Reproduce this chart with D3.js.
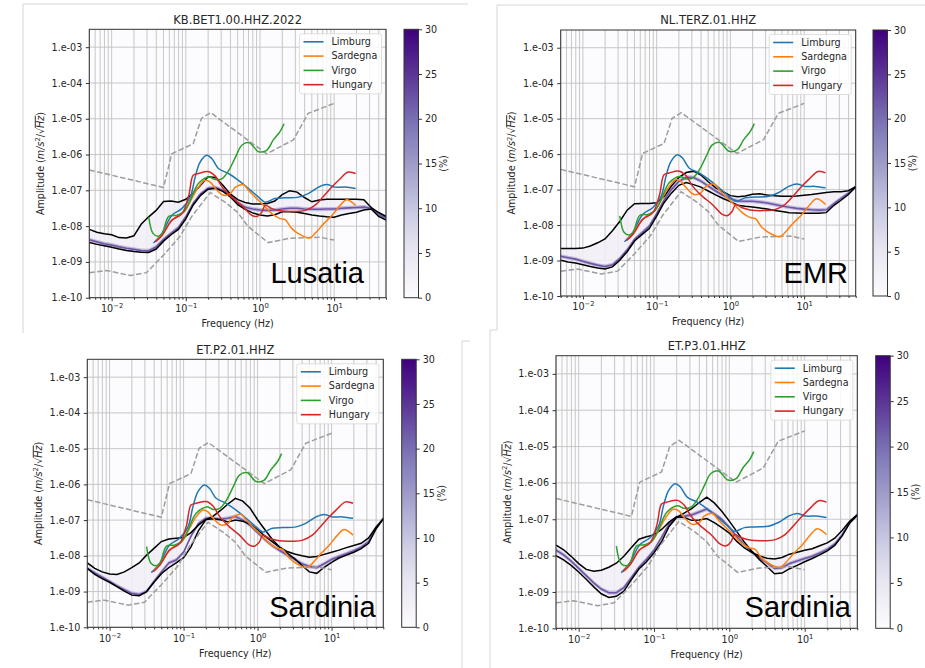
<!DOCTYPE html>
<html>
<head>
<meta charset="utf-8">
<script src="https://cdn.jsdelivr.net/npm/d3@7"></script>
<style>
  body { margin: 0; background: #fff; }
  svg { display: block; font-family: "DejaVu Sans", sans-serif; }
</style>
</head>
<body>
<svg id="chart" width="925" height="668"></svg>
<script>
// ---- data (log10 frequency in Hz, log10 amplitude in m/s^2/sqrt(Hz)) ----
var gridLogF = [-2.3,-2.2,-2.1,-2.0,-1.9,-1.8,-1.7,-1.6,-1.5,-1.4,-1.3,-1.2,-1.1,-1.0,-0.9,-0.8,-0.7,-0.6,-0.5,-0.4,
  -0.3,-0.2,-0.1,0.0,0.1,0.2,0.3,0.4,0.5,0.6,0.7,0.8,0.9,1.0,1.1,1.2,1.3,1.4,1.5,1.6,1.7];

// KB.BET1 (Lusatia)
var bet1Upper = [-8.09,-8.17,-8.21,-8.24,-8.32,-8.33,-8.27,-7.94,-7.74,-7.56,-7.31,-7.30,-7.33,-7.25,-7.08,-6.86,-6.62,-6.64,-6.86,-7.10,
  -7.26,-7.34,-7.38,-7.38,-7.37,-7.30,-7.12,-7.01,-7.05,-7.20,-7.32,-7.27,-7.25,-7.25,-7.25,-7.25,-7.25,-7.26,-7.48,-7.62,-7.73];
var bet1Lower = [-8.46,-8.51,-8.55,-8.59,-8.64,-8.68,-8.71,-8.73,-8.74,-8.64,-8.42,-8.24,-8.09,-7.80,-7.41,-7.14,-6.97,-6.94,-7.03,-7.18,
  -7.40,-7.53,-7.63,-7.69,-7.72,-7.68,-7.60,-7.60,-7.61,-7.65,-7.69,-7.72,-7.74,-7.75,-7.69,-7.65,-7.61,-7.55,-7.52,-7.73,-7.83];
var bet1Mode = [-8.38,-8.44,-8.49,-8.53,-8.58,-8.62,-8.65,-8.68,-8.69,-8.58,-8.37,-8.20,-8.04,-7.74,-7.36,-7.10,-6.94,-6.92,-7.00,-7.15,
  -7.35,-7.47,-7.52,-7.55,-7.56,-7.55,-7.52,-7.50,-7.50,-7.52,-7.53,-7.53,-7.52,-7.52,-7.50,-7.49,-7.48,-7.47,-7.50,-7.68,-7.78];

// NL.TERZ (EMR)
var terzUpper = [-8.66,-8.66,-8.66,-8.65,-8.59,-8.50,-8.39,-8.16,-7.90,-7.58,-7.40,-7.39,-7.39,-7.37,-7.20,-6.90,-6.66,-6.52,-6.48,-6.59,
  -6.78,-6.95,-7.06,-7.17,-7.20,-7.18,-7.13,-7.12,-7.15,-7.17,-7.19,-7.19,-7.18,-7.16,-7.14,-7.11,-7.08,-7.06,-7.06,-7.03,-6.92];
var terzLower = [-8.99,-9.04,-9.07,-9.12,-9.17,-9.21,-9.24,-9.18,-8.99,-8.75,-8.45,-8.27,-8.10,-7.75,-7.37,-7.10,-6.88,-6.80,-6.86,-6.93,
  -7.04,-7.15,-7.25,-7.34,-7.44,-7.47,-7.49,-7.52,-7.55,-7.59,-7.62,-7.65,-7.66,-7.67,-7.67,-7.67,-7.65,-7.45,-7.30,-7.14,-6.92];
var terzMode = [-8.88,-8.92,-8.96,-9.02,-9.08,-9.13,-9.17,-9.12,-8.94,-8.70,-8.40,-8.22,-8.03,-7.68,-7.30,-7.00,-6.77,-6.65,-6.66,-6.76,
  -6.90,-7.04,-7.16,-7.26,-7.32,-7.33,-7.33,-7.35,-7.38,-7.42,-7.46,-7.50,-7.53,-7.55,-7.57,-7.58,-7.57,-7.40,-7.25,-7.10,-6.92];

// ET.P2 (Sardinia)
var p2Upper = [-8.20,-8.35,-8.45,-8.51,-8.52,-8.45,-8.33,-8.20,-7.98,-7.79,-7.60,-7.53,-7.51,-7.49,-7.35,-7.14,-6.98,-6.96,-6.99,-7.05,
  -7.00,-7.03,-7.12,-7.27,-7.45,-7.61,-7.76,-7.88,-7.95,-8.00,-8.04,-8.02,-7.96,-7.90,-7.84,-7.77,-7.71,-7.65,-7.50,-7.20,-6.97];
var p2Lower = [-8.35,-8.52,-8.64,-8.74,-8.86,-8.99,-9.10,-9.12,-9.00,-8.74,-8.50,-8.33,-8.20,-8.05,-7.75,-7.30,-6.99,-6.89,-6.73,-6.55,
  -6.39,-6.47,-6.67,-6.99,-7.27,-7.54,-7.76,-7.92,-8.08,-8.27,-8.45,-8.49,-8.32,-8.18,-8.06,-7.98,-7.90,-7.80,-7.65,-7.25,-6.96];
var p2Mode = [-8.35,-8.48,-8.60,-8.72,-8.84,-8.95,-9.05,-9.08,-9.00,-8.72,-8.45,-8.20,-8.12,-7.90,-7.45,-7.10,-6.95,-6.95,-6.98,-6.95,
  -6.90,-7.00,-7.15,-7.35,-7.55,-7.72,-7.85,-7.98,-8.10,-8.22,-8.30,-8.33,-8.22,-8.10,-8.02,-7.94,-7.86,-7.76,-7.60,-7.22,-6.95];

// ET.P3 (Sardinia)
var p3Upper = [-7.71,-7.84,-8.02,-8.22,-8.38,-8.43,-8.40,-8.32,-8.21,-8.02,-7.78,-7.55,-7.48,-7.43,-7.28,-7.08,-6.93,-6.95,-7.03,-7.02,
  -6.98,-7.09,-7.23,-7.38,-7.61,-7.79,-7.92,-8.01,-8.07,-8.09,-8.05,-7.96,-7.91,-7.85,-7.81,-7.73,-7.65,-7.52,-7.30,-7.05,-6.88];
var p3Lower = [-8.00,-8.12,-8.27,-8.45,-8.65,-8.86,-9.05,-9.15,-9.12,-8.98,-8.66,-8.37,-8.17,-7.92,-7.62,-7.20,-6.95,-6.83,-6.71,-6.54,
  -6.39,-6.55,-6.78,-7.05,-7.34,-7.63,-7.88,-8.11,-8.30,-8.50,-8.48,-8.36,-8.27,-8.17,-8.08,-7.98,-7.87,-7.72,-7.45,-7.10,-6.88];
var p3Mode = [-7.85,-7.98,-8.15,-8.35,-8.55,-8.75,-8.92,-9.02,-9.02,-8.88,-8.60,-8.32,-8.10,-7.85,-7.50,-7.13,-6.94,-6.92,-6.88,-6.80,
  -6.72,-6.85,-7.00,-7.22,-7.48,-7.70,-7.90,-8.06,-8.20,-8.35,-8.33,-8.22,-8.15,-8.08,-8.02,-7.93,-7.83,-7.68,-7.42,-7.08,-6.88];

// reference noise models (dashed)
var refHighF = [-2.30,-1.30,-1.19,-0.90,-0.79,-0.665,0.09,0.45,0.65,1.0];
var refHighA = [-6.43,-6.92,-5.98,-5.70,-4.99,-4.83,-5.98,-5.59,-4.85,-4.57];
var refLowF = [-2.30,-2.07,-1.75,-1.53,-1.30,-1.08,-0.92,-0.67,-0.45,-0.30,-0.16,0.11,0.40,0.81,1.0];
var refLowA = [-9.30,-9.24,-9.38,-9.30,-8.81,-8.29,-7.73,-7.06,-7.36,-7.62,-8.01,-8.46,-8.34,-8.31,-8.39];

// site spectra
var limburgF = [-1.436,-1.324,-1.189,-1.054,-0.94,-0.874,-0.807,-0.717,-0.65,-0.56,-0.425,-0.29,-0.155,-0.02,0.07,0.20,0.34,0.52,0.65,0.79,0.90,1.01,1.15,1.29];
var limburgA = [-8.47,-8.21,-7.70,-7.51,-7.19,-6.63,-6.21,-6.02,-6.11,-6.39,-6.53,-6.72,-6.95,-7.19,-7.33,-7.23,-7.21,-7.19,-7.09,-6.91,-6.84,-6.91,-6.91,-6.95];
var sardegnaF = [-1.39,-1.28,-1.19,-1.10,-1.01,-0.92,-0.83,-0.74,-0.67,-0.60,-0.49,-0.40,-0.33,-0.22,-0.155,-0.065,0.05,0.16,0.27,0.34,0.43,0.56,0.67,0.74,0.86,0.97,1.08,1.17,1.29];
var sardegnaA = [-8.40,-8.12,-7.84,-7.70,-7.56,-7.23,-6.91,-6.72,-6.77,-6.95,-7.14,-7.09,-6.91,-6.84,-7.00,-7.19,-7.42,-7.65,-7.79,-7.82,-8.07,-8.26,-8.33,-8.21,-7.93,-7.70,-7.42,-7.26,-7.42];
var virgoF = [-1.50,-1.44,-1.37,-1.32,-1.23,-1.12,-1.03,-0.94,-0.83,-0.69,-0.60,-0.51,-0.42,-0.33,-0.245,-0.144,-0.02,0.09,0.18,0.27,0.324];
var virgoA = [-7.74,-8.21,-8.28,-8.21,-7.73,-7.70,-7.61,-7.28,-6.81,-6.63,-6.70,-6.67,-6.44,-6.07,-5.74,-5.67,-5.92,-5.88,-5.59,-5.36,-5.14];
var hungaryF = [-1.41,-1.32,-1.19,-1.05,-0.96,-0.90,-0.83,-0.69,-0.60,-0.51,-0.38,-0.245,-0.11,-0.04,0.025,0.07,0.16,0.29,0.47,0.61,0.74,0.83,0.95,1.06,1.19,1.29];
var hungaryA = [-8.44,-8.26,-7.84,-7.65,-7.14,-6.58,-6.53,-6.48,-6.61,-6.91,-7.19,-7.42,-7.70,-7.73,-7.61,-7.42,-7.51,-7.58,-7.59,-7.56,-7.42,-7.23,-6.95,-6.72,-6.49,-6.53];

var seriesNames = ["Limburg", "Sardegna", "Virgo", "Hungary"];
var seriesColors = ["#1f77b4", "#ff7f0e", "#2ca02c", "#d62728"];
var seriesF = [limburgF, sardegnaF, virgoF, hungaryF];
var seriesA = [limburgA, sardegnaA, virgoA, hungaryA];

var cbarTicks = [0, 5, 10, 15, 20, 25, 30];

// ---- layout of the four sub-figures ----
var panels = [
  { title: "KB.BET1.00.HHZ.2022", site: "Lusatia", x0: 89.3, x1: 386, y0: 29.3, y1: 297.7, cb: 404, siteX: 364, siteY: 283,
    upper: bet1Upper, lower: bet1Lower, mode: bet1Mode },
  { title: "NL.TERZ.01.HHZ", site: "EMR", x0: 560.7, x1: 855.7, y0: 30, y1: 296, cb: 873, siteX: 848, siteY: 283,
    upper: terzUpper, lower: terzLower, mode: terzMode },
  { title: "ET.P2.01.HHZ", site: "Sardinia", x0: 87.3, x1: 383.3, y0: 359.3, y1: 627.3, cb: 401.7, siteX: 375.7, siteY: 616.7,
    upper: p2Upper, lower: p2Lower, mode: p2Mode },
  { title: "ET.P3.01.HHZ", site: "Sardinia", x0: 556, x1: 857.3, y0: 355.7, y1: 628.3, cb: 875.7, siteX: 851, siteY: 616.7,
    upper: p3Upper, lower: p3Lower, mode: p3Mode }
];

var svg = d3.select("#chart");
var defs = svg.append("defs");
var pow10 = function(v) { return Math.pow(10, v); };

// colorbar gradient
var grad = defs.append("linearGradient").attr("id", "cbarGrad")
  .attr("x1", 0).attr("y1", 1).attr("x2", 0).attr("y2", 0);
d3.range(0, 1.0001, 0.05).forEach(function(t) {
  grad.append("stop").attr("offset", t).attr("stop-color", d3.interpolatePurples(t));
});

// faint borders of the pasted screenshots
var frameColor = "#d6d6d6";
[[23, 4, 468, 4], [23, 4, 23, 333], [497, 5, 925, 5], [497, 5, 497, 330],
 [490, 330, 497, 330], [490, 330, 490, 668], [462, 341, 470, 341], [462, 341, 462, 668]]
  .forEach(function(l) {
    svg.append("line").attr("x1", l[0]).attr("y1", l[1]).attr("x2", l[2]).attr("y2", l[3])
      .attr("stroke", frameColor).attr("stroke-width", 1);
  });

panels.forEach(function(p, i) {
  var x = d3.scaleLog().domain([0.005, 50]).range([p.x0, p.x1]);
  var y = d3.scaleLog().domain([1e-10, pow10(-2.5)]).range([p.y1, p.y0]);
  var g = svg.append("g");

  defs.append("clipPath").attr("id", "clip" + i).append("rect")
    .attr("x", p.x0).attr("y", p.y0).attr("width", p.x1 - p.x0).attr("height", p.y1 - p.y0);

  g.append("rect").attr("x", p.x0).attr("y", p.y0).attr("width", p.x1 - p.x0).attr("height", p.y1 - p.y0)
    .attr("fill", d3.interpolatePurples(0));

  var xAll = x.ticks();
  var xMajor = xAll.filter(function(v) { return Math.abs(Math.log10(v) - Math.round(Math.log10(v))) < 1e-6; });
  var xMinor = xAll.filter(function(v) { return xMajor.indexOf(v) < 0; });
  var yMajor = [1e-10, 1e-9, 1e-8, 1e-7, 1e-6, 1e-5, 1e-4, 1e-3];

  // grid
  var grid = g.append("g").attr("stroke", "#c2c2c2").attr("stroke-width", 0.9);
  xAll.forEach(function(v) {
    grid.append("line").attr("x1", x(v)).attr("x2", x(v)).attr("y1", p.y0).attr("y2", p.y1);
  });
  yMajor.forEach(function(v) {
    grid.append("line").attr("x1", p.x0).attr("x2", p.x1).attr("y1", y(v)).attr("y2", y(v));
  });

  var plot = g.append("g").attr("clip-path", "url(#clip" + i + ")");

  // probability density (shaded band + most probable level)
  var rows = gridLogF.map(function(lf, j) {
    return { f: pow10(lf), a: pow10(p.upper[j]), b: pow10(p.lower[j]), m: pow10(p.mode[j]) };
  });
  plot.append("path").datum(rows)
    .attr("fill", d3.interpolatePurples(0.1)).attr("opacity", 0.85)
    .attr("d", d3.area().x(function(d) { return x(d.f); })
      .y0(function(d) { return y(Math.min(d.a, d.b)); })
      .y1(function(d) { return y(Math.max(d.a, d.b)); }));
  plot.append("path").datum(rows)
    .attr("fill", d3.interpolatePurples(0.45)).attr("opacity", 0.7)
    .attr("d", d3.area().x(function(d) { return x(d.f); })
      .y0(function(d) { return y(d.m * 0.88); })
      .y1(function(d) { return y(d.m * 1.14); }));
  plot.append("path").datum(rows)
    .attr("fill", "none").attr("stroke", d3.interpolatePurples(0.85)).attr("stroke-width", 1.6).attr("opacity", 0.75)
    .attr("d", d3.line().x(function(d) { return x(d.f); }).y(function(d) { return y(d.m); }));

  // percentile curves
  ["a", "b"].forEach(function(k) {
    plot.append("path").datum(rows)
      .attr("fill", "none").attr("stroke", "#000").attr("stroke-width", 1.5)
      .attr("d", d3.line().x(function(d) { return x(d.f); }).y(function(d) { return y(d[k]); }));
  });

  // reference noise models
  [[refHighF, refHighA], [refLowF, refLowA]].forEach(function(r) {
    plot.append("path").datum(r[0].map(function(lf, j) { return [pow10(lf), pow10(r[1][j])]; }))
      .attr("fill", "none").attr("stroke", "#9d9d9d").attr("stroke-width", 1.5)
      .attr("stroke-dasharray", "5.5,2.4")
      .attr("d", d3.line().x(function(d) { return x(d[0]); }).y(function(d) { return y(d[1]); }));
  });

  // site spectra
  seriesF.forEach(function(fs, s) {
    plot.append("path").datum(fs.map(function(lf, j) { return [pow10(lf), pow10(seriesA[s][j])]; }))
      .attr("fill", "none").attr("stroke", seriesColors[s]).attr("stroke-width", 1.5)
      .attr("d", d3.line().curve(d3.curveCatmullRom).x(function(d) { return x(d[0]); }).y(function(d) { return y(d[1]); }));
  });

  // axes
  var yAxis = g.append("g").attr("transform", "translate(" + p.x0 + ",0)")
    .call(d3.axisLeft(y).tickValues(yMajor).tickSize(3.5).tickPadding(3.5)
      .tickFormat(function(v) { var e = Math.round(Math.log10(v)); return "1.e-" + String(-e).padStart(2, "0"); }));
  var xAxisMinor = g.append("g").attr("transform", "translate(0," + p.y1 + ")")
    .call(d3.axisBottom(x).tickValues(xMinor).tickSize(2).tickFormat(""));
  var xAxis = g.append("g").attr("transform", "translate(0," + p.y1 + ")")
    .call(d3.axisBottom(x).tickValues(xMajor).tickSize(3.5).tickPadding(4).tickFormat(""));
  xAxis.selectAll(".tick text").each(function(v) {
    var t = d3.select(this);
    var e = Math.round(Math.log10(v));
    t.append("tspan").text("10");
    t.append("tspan").attr("dy", -4).attr("font-size", "6.8px").text(e < 0 ? "\u2212" + (-e) : String(e));
  });
  [yAxis, xAxis, xAxisMinor].forEach(function(a) {
    a.select(".domain").remove();
    a.selectAll(".tick line").attr("stroke", "#333");
    a.selectAll(".tick text").attr("font-size", "9.6px").attr("fill", "#262626")
      .attr("font-family", "DejaVu Sans");
  });

  g.append("rect").attr("x", p.x0).attr("y", p.y0).attr("width", p.x1 - p.x0).attr("height", p.y1 - p.y0)
    .attr("fill", "none").attr("stroke", "#333").attr("stroke-width", 1);

  // title and axis labels
  g.append("text").attr("x", (p.x0 + p.x1) / 2).attr("y", p.y0 - 5.8).attr("text-anchor", "middle")
    .attr("font-size", "11.5px").attr("fill", "#262626").text(p.title);
  g.append("text").attr("x", (p.x0 + p.x1) / 2).attr("y", p.y1 + 29.4).attr("text-anchor", "middle")
    .attr("font-size", "9.6px").attr("fill", "#262626").text("Frequency (Hz)");
  var yl = g.append("text")
    .attr("transform", "translate(" + (p.x0 - 45.5) + "," + ((p.y0 + p.y1) / 2) + ") rotate(-90)")
    .attr("text-anchor", "middle").attr("font-size", "9.6px").attr("fill", "#262626");
  yl.append("tspan").text("Amplitude (");
  yl.append("tspan").attr("font-style", "italic").text("m/s");
  yl.append("tspan").attr("font-size", "6.8px").attr("dy", -3.5).text("2");
  yl.append("tspan").attr("dy", 3.5).text("/\u221A");
  yl.append("tspan").attr("font-style", "italic").style("text-decoration", "overline").text("Hz");
  yl.append("tspan").text(")");

  // legend
  var lw = 82, lh = 60;
  var lx = p.x1 - 4.5 - lw, ly = p.y0 + 4.5;
  var leg = g.append("g");
  leg.append("rect").attr("x", lx).attr("y", ly).attr("width", lw).attr("height", lh).attr("rx", 2.5)
    .attr("fill", "#fff").attr("fill-opacity", 0.85).attr("stroke", "#d8d8d8").attr("stroke-width", 0.8);
  seriesNames.forEach(function(n, s) {
    var yy = ly + 8 + s * 14.3;
    leg.append("line").attr("x1", lx + 4).attr("x2", lx + 24).attr("y1", yy).attr("y2", yy)
      .attr("stroke", seriesColors[s]).attr("stroke-width", 1.6);
    leg.append("text").attr("x", lx + 32).attr("y", yy).attr("dy", "0.35em")
      .attr("font-size", "9.6px").attr("fill", "#262626").text(n);
  });

  // colorbar
  var cw = 14.5;
  g.append("rect").attr("x", p.cb).attr("y", p.y0).attr("width", cw).attr("height", p.y1 - p.y0)
    .attr("fill", "url(#cbarGrad)").attr("stroke", "#333").attr("stroke-width", 1);
  var cScale = d3.scaleLinear().domain([0, 30]).range([p.y1, p.y0]);
  var cAxis = g.append("g").attr("transform", "translate(" + (p.cb + cw) + ",0)")
    .call(d3.axisRight(cScale).tickValues(cbarTicks).tickSize(3.5).tickPadding(3));
  cAxis.select(".domain").remove();
  cAxis.selectAll(".tick line").attr("stroke", "#333");
  cAxis.selectAll(".tick text").attr("font-size", "9.6px").attr("fill", "#262626").attr("font-family", "DejaVu Sans");
  g.append("text")
    .attr("transform", "translate(" + (p.cb + cw + 28.5) + "," + ((p.y0 + p.y1) / 2) + ") rotate(-90)")
    .attr("text-anchor", "middle").attr("font-size", "9.6px").attr("fill", "#262626").text("(%)");

  // site name
  g.append("text").attr("x", p.siteX).attr("y", p.siteY).attr("text-anchor", "end")
    .attr("font-family", "Liberation Sans, Arial, sans-serif").attr("font-size", "29px").attr("fill", "#000")
    .text(p.site);
});
</script>
</body>
</html>
